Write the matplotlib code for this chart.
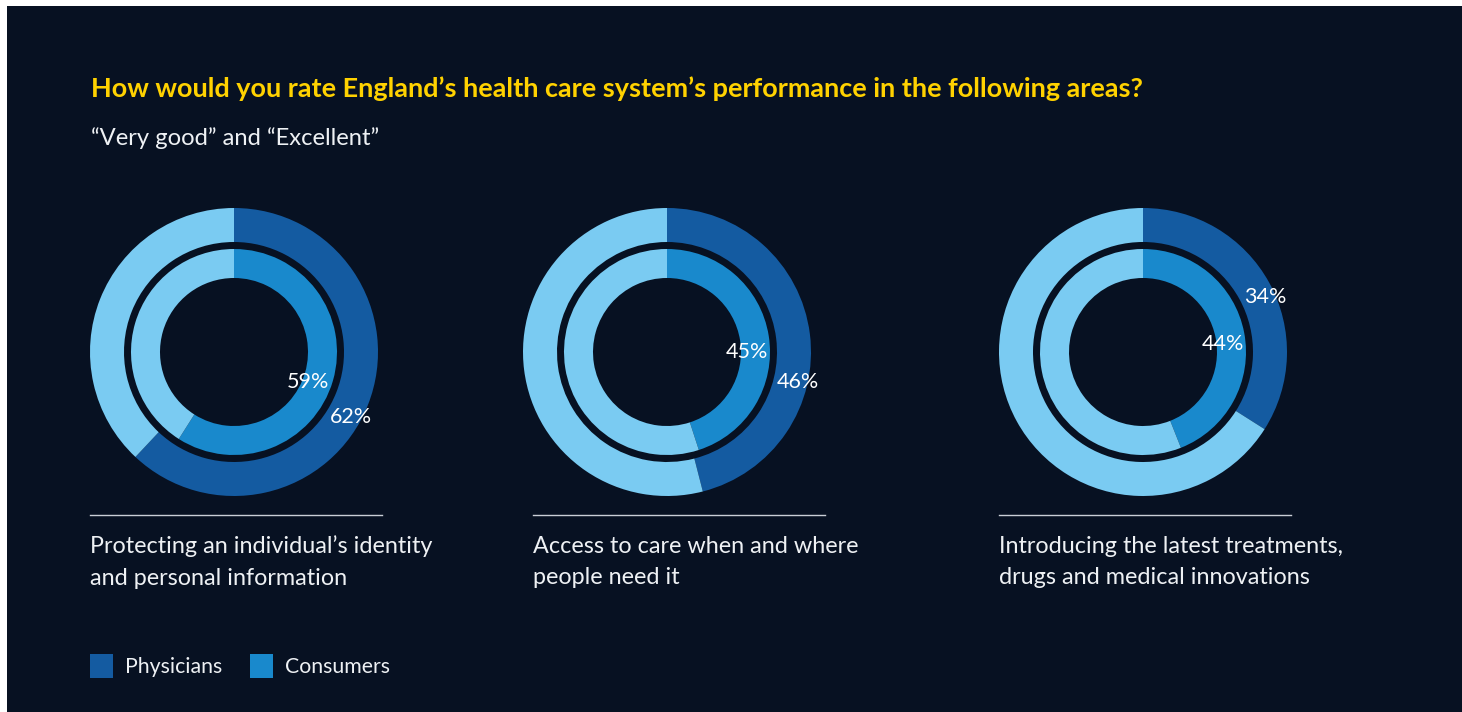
import matplotlib.pyplot as plt
import numpy as np
from matplotlib.patches import Rectangle

# ----------------------------------------------------
# Data
# ----------------------------------------------------

title = "How would you rate England\u2019s health care system\u2019s performance in the following areas?"
subtitle = "\u201cVery good\u201d and \u201cExcellent\u201d"

categories = [
    "Protecting an individual\u2019s identity\nand personal information",
    "Access to care when and where\npeople need it",
    "Introducing the latest treatments,\ndrugs and medical innovations",
]
physicians = [62, 46, 34]
consumers = [59, 45, 44]
series_names = ["Physicians", "Consumers"]

# ----------------------------------------------------
# Style
# ----------------------------------------------------

W, H = 1462, 712
BG = "#071122"
DARK = "#145ba1"
MID = "#1989cc"
LIGHT = "#7acbf2"
YELLOW = "#ffd200"
TEXT = "#eef1f4"
FONT = "Lato"

centers_x = [234, 667, 1143]
caption_x = [90, 533, 999]
center_y = 352
R_OUT, W_OUT = 144, 34
R_IN, W_IN = 103, 29

# label placement (clockwise degrees from top, radius in px)
outer_label_angle = [119, 103, 66]
inner_label_angle = [112, 90, 84]
outer_label_r = 134
inner_label_r = 80

fig = plt.figure(figsize=(W / 100, H / 100), dpi=100)
fig.patch.set_facecolor("white")
fig.patches.append(
    Rectangle((7 / W, 0), 1 - 7 / W, 1 - 6 / H,
              transform=fig.transFigure, facecolor=BG, edgecolor="none", zorder=-10)
)

# overlay axes in pixel coordinates for text, lines and legend
base = fig.add_axes([0, 0, 1, 1])
base.set_xlim(0, W)
base.set_ylim(H, 0)
base.axis("off")

renderer = fig.canvas.get_renderer()


def fit(txt, width):
    bb = txt.get_window_extent(renderer=renderer)
    txt.set_fontsize(txt.get_fontsize() * width / bb.width)


t = base.text(91, 89, title, color=YELLOW, fontsize=16, fontweight="bold",
              family=FONT, va="center", ha="left")
fit(t, 1054)
t = base.text(91, 138, subtitle, color=TEXT, fontsize=14,
              family=FONT, va="center", ha="left")
fit(t, 290)

# ----------------------------------------------------
# Donuts
# ----------------------------------------------------

for i, cx in enumerate(centers_x):
    ax = fig.add_axes([(cx - R_OUT) / W, (H - center_y - R_OUT) / H,
                       2 * R_OUT / W, 2 * R_OUT / H])
    ax.axis("off")

    ax.pie([physicians[i], 100 - physicians[i]], radius=1.0,
           colors=[DARK, LIGHT], startangle=90, counterclock=False,
           wedgeprops=dict(width=W_OUT / R_OUT, linewidth=0))
    ax.pie([consumers[i], 100 - consumers[i]], radius=R_IN / R_OUT,
           colors=[MID, LIGHT], startangle=90, counterclock=False,
           wedgeprops=dict(width=W_IN / R_OUT, linewidth=0))
    ax.set_xlim(-1, 1)
    ax.set_ylim(-1, 1)

    for val, ang, r in [(physicians[i], outer_label_angle[i], outer_label_r),
                        (consumers[i], inner_label_angle[i], inner_label_r)]:
        a = np.radians(ang)
        ax.text(r / R_OUT * np.sin(a), r / R_OUT * np.cos(a), f"{val}%",
                color="white", fontsize=15.5, family=FONT,
                ha="center", va="center")

    # separator line and category label
    x0 = caption_x[i]
    base.plot([x0, x0 + 292], [515, 515], color="#c9ced6", linewidth=1)
    base.text(x0, 562, categories[i], color=TEXT, fontsize=16.8, family=FONT,
              ha="left", va="center", linespacing=1.6)

# ----------------------------------------------------
# Legend
# ----------------------------------------------------

for x, name, col in [(90, series_names[0], DARK), (250, series_names[1], MID)]:
    base.add_patch(Rectangle((x, 654), 23, 24, facecolor=col, edgecolor="none"))
    base.text(x + 35, 667, name, color=TEXT, fontsize=15.3, family=FONT,
              ha="left", va="center")

plt.savefig("out.png", dpi=100, facecolor=fig.get_facecolor())
plt.close()
